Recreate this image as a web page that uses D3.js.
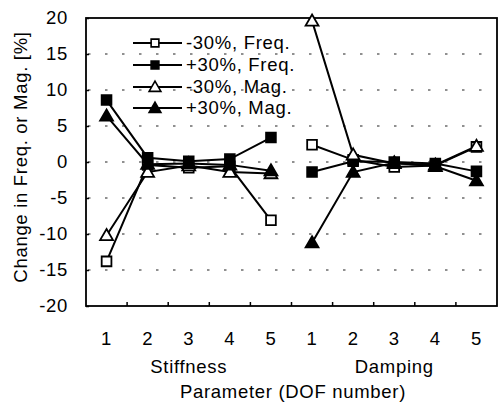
<!DOCTYPE html>
<html><head><meta charset="utf-8">
<script src="https://cdn.jsdelivr.net/npm/d3@7"></script>
<style>
html,body{margin:0;padding:0;background:#fff;}
text{font-family:"Liberation Sans",Arial,sans-serif;font-size:18.5px;letter-spacing:0.7px;fill:#000;}
</style></head>
<body><svg id="c" width="501" height="406"></svg>
<script>
const categories = ["1","2","3","4","5","1","2","3","4","5"];
const groups = ["Stiffness","Damping"];
const yTicks = [-20,-15,-10,-5,0,5,10,15,20];
const seriesNames = ["-30%, Freq.","+30%, Freq.","-30%, Mag.","+30%, Mag."];
const freqMinus = [-13.8, -0.4, -0.8, -0.6, -8.1, 2.4, 0.3, -0.7, -0.5, 2.1];
const freqPlus  = [8.6, 0.6, 0.1, 0.4, 3.4, -1.4, 0.1, 0.0, -0.2, -1.3];
const magMinus  = [-10.2, -1.4, -0.5, -1.4, -1.6, 19.6, 1.0, -0.2, -0.4, 2.2];
const magPlus   = [6.4, -0.3, -0.2, -0.4, -1.2, -11.2, -1.4, -0.1, -0.6, -2.6];

const series = [
  {name: seriesNames[0], values: freqMinus, shape: "square", fill: "#fff"},
  {name: seriesNames[1], values: freqPlus,  shape: "square", fill: "#000"},
  {name: seriesNames[2], values: magMinus,  shape: "triangle", fill: "#fff"},
  {name: seriesNames[3], values: magPlus,   shape: "triangle", fill: "#000"}
];

const L = 86, R = 497, T = 18, B = 306;
const svg = d3.select("#c");
const x = d3.scaleBand().domain(d3.range(categories.length)).range([L, R]).padding(0);
const y = d3.scaleLinear().domain([-20, 20]).range([B, T]);

// gridlines
svg.append("g").selectAll("line").data(yTicks.filter(t => t > -20 && t < 20)).join("line")
  .attr("x1", L + 2).attr("x2", R - 2)
  .attr("y1", d => y(d)).attr("y2", d => y(d))
  .attr("stroke", "#222").attr("stroke-width", 1.2).attr("stroke-dasharray", "2.5,14.5");

// y axis
const yAxis = d3.axisLeft(y).tickValues(yTicks).tickSize(-3).tickPadding(18).tickFormat(d => String(d));
const ya = svg.append("g").attr("transform", `translate(${L},0)`).call(yAxis);
ya.select(".domain").remove();
ya.selectAll(".tick line").attr("stroke", "#000").attr("stroke-width", 1.5);
ya.selectAll(".tick text").style("font-size", "18.5px").style("letter-spacing", "0.7px")
  .style("font-family", '"Liberation Sans",Arial,sans-serif');

// x axis ticks (boundaries between categories)
const bounds = d3.range(1, categories.length).map(i => x(i));
svg.append("g").selectAll("line").data(bounds).join("line")
  .attr("x1", d => d).attr("x2", d => d).attr("y1", B).attr("y2", B - 4)
  .attr("stroke", "#000").attr("stroke-width", 1.5);

// frame
svg.append("rect").attr("x", L).attr("y", T).attr("width", R - L).attr("height", B - T)
  .attr("fill", "none").attr("stroke", "#000").attr("stroke-width", 1.8);

// category labels
svg.append("g").selectAll("text").data(categories).join("text")
  .attr("x", (d, i) => x(i) + x.bandwidth() / 2).attr("y", 345)
  .attr("text-anchor", "middle").text(d => d);

// group labels
svg.append("g").selectAll("text").data(groups).join("text")
  .attr("x", (d, i) => (x(i * 5) + x(i * 5 + 4) + x.bandwidth()) / 2)
  .attr("y", 373).attr("text-anchor", "middle").text(d => d);

svg.append("text").attr("x", 293).attr("y", 398).attr("text-anchor", "middle")
  .text("Parameter (DOF number)");

svg.append("text").attr("transform", "translate(27,157) rotate(-90)")
  .attr("text-anchor", "middle").text("Change in Freq. or Mag. [%]");

// lines (two segments: stiffness and damping)
const line = d3.line().x(d => x(d.i) + x.bandwidth() / 2).y(d => y(d.v));
const sqSym = d3.symbol().type(d3.symbolSquare).size(95);
const triSym = d3.symbol().type(d3.symbolTriangle).size(72);

series.forEach(s => {
  const pts = s.values.map((v, i) => ({i, v}));
  [pts.slice(0, 5), pts.slice(5, 10)].forEach(seg => {
    svg.append("path").datum(seg).attr("d", line).attr("fill", "none")
      .attr("stroke", "#000").attr("stroke-width", 2);
  });
});
series.forEach(s => {
  const pts = s.values.map((v, i) => ({i, v}));
  svg.append("g").selectAll("path").data(pts).join("path")
    .attr("d", s.shape === "square" ? sqSym() : triSym())
    .attr("transform", d => `translate(${x(d.i) + x.bandwidth() / 2},${y(d.v) + (s.shape === "triangle" ? 1 : 0)})`)
    .attr("fill", s.fill).attr("stroke", "#000").attr("stroke-width", 1.8);
});

// legend
const legY = [43, 65, 87, 108];
const lg = svg.append("g");
series.forEach((s, k) => {
  lg.append("line").attr("x1", 133).attr("x2", 182).attr("y1", legY[k]).attr("y2", legY[k])
    .attr("stroke", "#000").attr("stroke-width", 2);
  lg.append("path").attr("d", s.shape === "square" ? d3.symbol().type(d3.symbolSquare).size(60)() : d3.symbol().type(d3.symbolTriangle).size(60)())
    .attr("transform", `translate(155,${legY[k] + (s.shape === "triangle" ? 1 : 0)})`)
    .attr("fill", s.fill).attr("stroke", "#000").attr("stroke-width", 1.6);
  lg.append("text").attr("x", 186).attr("y", legY[k]).attr("dy", "0.35em").text(s.name);
});
</script></body></html>
